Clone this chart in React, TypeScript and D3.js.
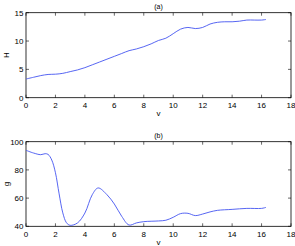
import * as d3 from 'd3'

const vTop = [0, 0.5, 1, 1.5, 2, 2.5, 3, 3.5, 4, 4.5, 5, 5.5, 6, 6.5, 7, 7.5, 8, 8.5, 9, 9.5, 10, 10.5, 11, 11.5, 12, 12.5, 13, 13.5, 14, 14.5, 15, 15.5, 16, 16.3]
const hValues = [3.3, 3.6, 3.9, 4.1, 4.15, 4.3, 4.6, 4.9, 5.3, 5.8, 6.3, 6.8, 7.3, 7.8, 8.3, 8.6, 9.0, 9.5, 10.1, 10.5, 11.3, 12.1, 12.4, 12.2, 12.4, 13.0, 13.3, 13.4, 13.4, 13.5, 13.7, 13.7, 13.7, 13.8]

const vBottom = [0, 0.5, 1, 1.3, 1.5, 1.75, 2, 2.25, 2.5, 2.75, 3, 3.5, 4, 4.5, 4.9, 5.5, 6, 6.5, 7, 7.5, 8, 9, 9.5, 10, 10.5, 11, 11.5, 12, 12.5, 13, 14, 15, 16, 16.3]
const gValues = [93.9, 92, 90.8, 91.5, 91, 87, 78, 63, 49.5, 42.5, 40.7, 42.4, 49.4, 62.4, 67.2, 62.4, 55.8, 47.1, 40.9, 42.4, 43.3, 43.8, 44.3, 46.4, 49, 49.2, 47.6, 48.7, 50.2, 51.3, 52, 52.7, 52.7, 53.4]

const xTicks = [0, 2, 4, 6, 8, 10, 12, 14, 16, 18]
const hTicks = [0, 5, 10, 15]
const gTicks = [40, 60, 80, 100]

const W = 295
const H = 246
const left = 26
const right = 291
const font = 'Liberation Sans, Arial, sans-serif'

const Panel = ({ top, bottom, xs, ys, yDomain, yTicks, title, ylabel }) => {
  const x = d3.scaleLinear().domain([0, 18]).range([left, right])
  const y = d3.scaleLinear().domain(yDomain).range([bottom, top])
  const line = d3.line().x(d => x(d[0])).y(d => y(d[1])).curve(d3.curveCatmullRom)
  const pts = xs.map((v, i) => [v, ys[i]])
  const tl = 3
  return (
    <g>
      <rect x={left} y={top} width={right - left} height={bottom - top} fill="white" stroke="black" strokeWidth={0.8} />
      {xTicks.map(t => (
        <g key={'x' + t}>
          <line x1={x(t)} x2={x(t)} y1={bottom} y2={bottom - tl} stroke="black" strokeWidth={0.6} />
          <line x1={x(t)} x2={x(t)} y1={top} y2={top + tl} stroke="black" strokeWidth={0.6} />
          <text x={x(t)} y={bottom + 10.5} fontSize={8} textAnchor="middle" fontFamily={font}>{t}</text>
        </g>
      ))}
      {yTicks.map(t => (
        <g key={'y' + t}>
          <line x1={left} x2={left + tl} y1={y(t)} y2={y(t)} stroke="black" strokeWidth={0.6} />
          <line x1={right} x2={right - tl} y1={y(t)} y2={y(t)} stroke="black" strokeWidth={0.6} />
          <text x={left - 2.5} y={y(t) + 3} fontSize={8} textAnchor="end" fontFamily={font}>{t}</text>
        </g>
      ))}
      <path d={line(pts)} fill="none" stroke="#4455f0" strokeWidth={0.9} />
      <text x={(left + right) / 2} y={top - 4} fontSize={7} textAnchor="middle" fontFamily={font}>{title}</text>
      <text x={(left + right) / 2} y={bottom + 18.5} fontSize={8} textAnchor="middle" fontFamily={font}>v</text>
      <text transform={`translate(9, ${(top + bottom) / 2}) rotate(-90)`} fontSize={8} textAnchor="middle" fontFamily={font}>{ylabel}</text>
    </g>
  )
}

export default function App() {
  return (
    <svg width={W} height={H} style={{ position: 'absolute', left: 0, top: 0, background: 'white' }}>
      <Panel top={12.7} bottom={97.7} xs={vTop} ys={hValues} yDomain={[0, 15]} yTicks={hTicks} title="(a)" ylabel="H" />
      <Panel top={141.7} bottom={226.3} xs={vBottom} ys={gValues} yDomain={[40, 100]} yTicks={gTicks} title="(b)" ylabel="g" />
    </svg>
  )
}
